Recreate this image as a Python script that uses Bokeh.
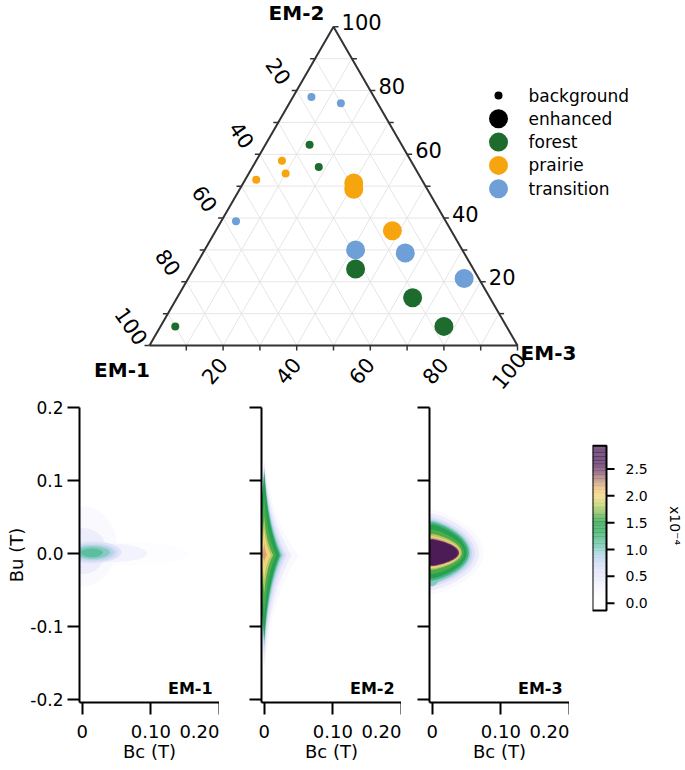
import numpy as np
from bokeh.plotting import figure
from bokeh.models import Range1d, FixedTicker, ColumnDataSource, Label, PrintfTickFormatter
from bokeh.layouts import column, row
from bokeh.transform import linear_cmap
from bokeh.core.properties import value
from bokeh.embed import file_html
from bokeh.resources import INLINE

FONT = "DejaVu Sans"

# ---------------- ternary data (percent) ----------------
em1 = [17, 10, 25, 26, 35, 36, 45, 57, 90, 19, 20, 16, 29, 16, 4, 32, 21, 17]
em2 = [78, 76, 63, 56, 58, 54, 52, 39, 6, 51, 49, 36, 30, 29, 21, 24, 15, 6]
em3 = [5, 14, 12, 18, 7, 10, 3, 4, 4, 30, 31, 48, 41, 55, 75, 44, 64, 77]
site = ["transition", "transition", "forest", "forest", "prairie", "prairie", "prairie",
        "transition", "forest", "prairie", "prairie", "prairie", "transition", "transition",
        "transition", "forest", "forest", "forest"]
sample = ["background"] * 9 + ["enhanced"] * 9

legend_labels = ["background", "enhanced", "forest", "prairie", "transition"]
site_types = ["forest", "prairie", "transition"]
site_colors = ["#1d6c2d", "#f6a50e", "#6e9fd6"]
tern_labels = [20, 40, 60, 80, 100]
tern_steps = [10, 20, 30, 40, 50, 60, 70, 80, 90, 100]

# ---------------- FORC-like density contour levels (x1e-4) ----------------
# level value, Bc centre, Bc half-extent, Bu of widest point, Bu top, Bu bottom
em1_level = [0.15, 0.2, 0.3, 0.4, 0.55, 0.7, 0.85, 1.0, 1.1]
em1_bc = [0.07, 0.0, 0.035, 0.0, 0.012, 0.014, 0.015, 0.015, 0.014]
em1_bc_ext = [0.085, 0.05, 0.06, 0.035, 0.045, 0.037, 0.031, 0.025, 0.016]
em1_bu_pk = [0.0, 0.01, 0.0, 0.006, 0.002, 0.002, 0.002, 0.002, 0.002]
em1_bu_top = [0.016, 0.065, 0.014, 0.035, 0.017, 0.014, 0.012, 0.01, 0.007]
em1_bu_bot = [-0.016, -0.045, -0.012, -0.028, -0.013, -0.011, -0.009, -0.007, -0.005]

em2_level = [0.2, 0.4, 0.6, 0.8, 1.0, 1.2, 1.4, 1.6, 1.8, 2.0, 2.2]
em2_bc = [0.0] * 11
em2_bc_ext = [0.05, 0.04, 0.033, 0.029, 0.026, 0.024, 0.022, 0.017, 0.013, 0.01, 0.004]
em2_bu_pk = [-0.002] * 11
em2_bu_top = [0.13, 0.125, 0.12, 0.118, 0.115, 0.112, 0.11, 0.08, 0.05, 0.034, 0.016]
em2_bu_bot = [-0.16, -0.15, -0.14, -0.13, -0.125, -0.12, -0.115, -0.085, -0.055, -0.036, -0.012]

em3_level = [0.2, 0.4, 0.6, 0.8, 1.0, 1.0, 1.2, 1.4, 1.6, 1.8, 2.0, 2.2, 2.5, 2.8]
em3_bc = [0.0] * 14
em3_bc_ext = [0.075, 0.068, 0.062, 0.058, 0.012, 0.055, 0.053, 0.05, 0.046, 0.043, 0.041, 0.04, 0.039, 0.037]
em3_bu_pk = [0.0, 0.0, 0.0, 0.0, -0.03, 0.001, 0.001, 0.001, 0.001, 0.001, 0.001, 0.001, 0.001, 0.001]
em3_bu_top = [0.06, 0.055, 0.05, 0.047, -0.018, 0.045, 0.043, 0.04, 0.033, 0.027, 0.024, 0.022, 0.02, 0.019]
em3_bu_bot = [-0.056, -0.05, -0.045, -0.042, -0.045, -0.04, -0.037, -0.034, -0.028, -0.022, -0.02, -0.018, -0.017, -0.016]

bu_ticks = [-0.2, -0.1, 0.0, 0.1, 0.2]
bc_ticks = [0.0, 0.1, 0.2]
bc_tick_labels = ["0", "0.10", "0.20"]
cb_ticks = [0.0, 0.5, 1.0, 1.5, 2.0, 2.5]
cb_tick_labels = ["0.0", "0.5", "1.0", "1.5", "2.0", "2.5"]
CB_LOW, CB_HIGH = -0.136, 2.934

# ---------------- colour map ----------------
stops = [(-0.14, "#ffffff"), (0.1, "#ffffff"), (0.35, "#f0f0fc"), (0.6, "#dde0f7"),
         (0.8, "#bfd6ef"), (0.95, "#98cfd2"), (1.1, "#5cbf9f"), (1.3, "#2fa95e"),
         (1.5, "#1f9a45"), (1.7, "#7fbb50"), (1.85, "#c8cf68"), (2.0, "#f2d47c"),
         (2.15, "#e6b877"), (2.3, "#b08070"), (2.45, "#7a4a6a"), (2.6, "#4f1f58"),
         (2.96, "#4a1a55")]


def _rgb(h):
    return [int(h[i:i + 2], 16) for i in (1, 3, 5)]


def build_palette(n=256):
    sv = np.array([s[0] for s in stops])
    sc = np.array([_rgb(s[1]) for s in stops], dtype=float)
    out = []
    for v in np.linspace(CB_LOW, CB_HIGH, n):
        c = [np.interp(v, sv, sc[:, k]) for k in range(3)]
        out.append("#%02x%02x%02x" % tuple(int(round(x)) for x in c))
    return out


PALETTE = build_palette()

# ---------------- ternary figure ----------------
S = 3.68             # px per percent
BLX, BLY = 149, 345  # page position of the EM-1 corner
TW, TH = 685, 395
X0 = -BLX / S
Y1 = BLY / S
R3 = np.sqrt(3) / 2


def tern_xy(a, b, c):
    a, b, c = np.asarray(a, float), np.asarray(b, float), np.asarray(c, float)
    tot = a + b + c
    return 100 * (c + b / 2) / tot, 100 * b * R3 / tot


def page_xy(x, y):
    return (np.asarray(x, float) - BLX) / S, (BLY - np.asarray(y, float)) / S


pt = figure(width=TW, height=TH, x_range=Range1d(X0, X0 + TW / S), y_range=Range1d(Y1 - TH / S, Y1),
            x_axis_type=None, y_axis_type=None, toolbar_location=None, output_backend="svg",
            min_border=0, outline_line_color=None)

grid_v = np.array(tern_steps[:-1], float)
gx0, gy0, gx1, gy1 = [], [], [], []
for v in grid_v:
    for (q0, q1) in [((100 - v, v, 0), (0, v, 100 - v)),
                     ((100 - v, 0, v), (0, 100 - v, v)),
                     ((v, 0, 100 - v), (v, 100 - v, 0))]:
        x0, y0 = tern_xy(*q0)
        x1, y1 = tern_xy(*q1)
        gx0.append(float(x0)); gy0.append(float(y0)); gx1.append(float(x1)); gy1.append(float(y1))
pt.segment(gx0, gy0, gx1, gy1, line_color="#e6e6e6", line_width=1)

vx, vy = tern_xy([100, 0, 0, 100], [0, 100, 0, 0], [0, 0, 100, 0])
pt.line(vx, vy, line_color="#333333", line_width=2)

# ticks
TL = 5 / S
st = np.array(tern_steps, float)
bx, by = tern_xy(100 - st, 0 * st, st)
pt.segment(bx, by, bx, by - TL, line_color="#333333", line_width=1.5)
rx, ry = tern_xy(0 * st, st, 100 - st)
pt.segment(rx, ry, rx + TL, ry, line_color="#333333", line_width=1.5)
lx, ly = tern_xy(st, 100 - st, 0 * st)
pt.segment(lx, ly, lx - TL, ly, line_color="#333333", line_width=1.5)

tl = np.array(tern_labels, float)
tl_txt = [str(v) for v in tern_labels]
bx, by = tern_xy(100 - tl, 0 * tl, tl)
pt.text(bx - 2.4, by - 6.8, text=tl_txt, angle=np.deg2rad(50), text_align="center",
        text_baseline="middle", text_font=value(FONT), text_font_size="21px", text_color="black")
rx, ry = tern_xy(0 * tl, tl, 100 - tl)
pt.text(rx + 2.2, ry + 1.2, text=tl_txt, text_align="left", text_baseline="middle",
        text_font=value(FONT), text_font_size="21px", text_color="black")
lx, ly = tern_xy(tl, 100 - tl, 0 * tl)
pt.text(lx - 4.9, ly + 5.3, text=tl_txt, angle=np.deg2rad(-55), text_align="center",
        text_baseline="middle", text_font=value(FONT), text_font_size="21px", text_color="black")

# axis titles
tx, ty = page_xy([296, 121.5, 548], [12, 369, 352.5])
pt.text(tx, ty, text=["EM-2", "EM-1", "EM-3"], text_align="center", text_baseline="middle",
        text_font=value(FONT), text_font_size="20px", text_font_style="bold", text_color="black")

# data points
px, py = tern_xy(em1, em2, em3)
cmap = dict(zip(site_types, site_colors))
sizes = {"background": 8, "enhanced": 19}
src = ColumnDataSource(dict(x=px, y=py, color=[cmap[s] for s in site],
                            size=[sizes[s] for s in sample]))
pt.scatter("x", "y", size="size", fill_color="color", line_color=None, source=src)

# legend (manual)
LX, LY0 = page_xy(498, 95)
LTX, _ = page_xy(528, 95)
LDY = -23.3 / S
leg_y = [float(LY0) + i * LDY for i in range(len(legend_labels))]
leg_col = ["black", "black"] + site_colors
leg_size = [8, 19, 19, 19, 19]
pt.scatter([float(LX)] * 5, leg_y, size=leg_size, fill_color=leg_col, line_color=None)
pt.text([float(LTX)] * 5, leg_y, text=legend_labels, text_align="left", text_baseline="middle",
        text_font=value(FONT), text_font_size="17px", text_color="black")

# ---------------- FORC panels ----------------
FW, FH = 140, 295
BT, BB = 12, 66
PH = BT + FH + BB
UU = np.linspace(-1, 1, 121)


def profile(kind, a):
    au = np.abs(UU)
    if kind == "cusp":
        return (np.exp(-a * au) - np.exp(-a)) / (1 - np.exp(-a))
    q, pw = a
    return (1 - au ** q) ** pw


def contour_shape(bc, ext, pk, top, bot, kind, a):
    f = profile(kind, a)
    y = np.where(UU >= 0, pk + UU * (top - pk), pk + UU * (pk - bot))
    xs = np.concatenate([bc + ext * f, (bc - ext * f)[::-1]])
    ys = np.concatenate([y, y[::-1]])
    return xs.tolist(), ys.tolist()


def panel(name, lv, bcc, ext, pk, top, bot, kind, a, left, first):
    p = figure(width=left + FW, height=PH, x_range=Range1d(-0.004, 0.2), y_range=Range1d(-0.2037, 0.2),
               min_border_left=left, min_border_right=0, min_border_top=BT, min_border_bottom=BB,
               toolbar_location=None, output_backend="svg", outline_line_color=None)
    p.grid.visible = False
    xs, ys = [], []
    for i in range(len(lv)):
        u, w = contour_shape(bcc[i], ext[i], pk[i], top[i], bot[i], kind, a)
        xs.append(u); ys.append(w)
    src = ColumnDataSource(dict(xs=xs, ys=ys, lv=lv))
    p.patches("xs", "ys", source=src, line_color=None,
              fill_color=linear_cmap("lv", PALETTE, CB_LOW, CB_HIGH))
    for ax in (p.xaxis[0], p.yaxis[0]):
        ax.axis_line_width = 2
        ax.axis_line_color = "black"
        ax.major_tick_line_width = 2
        ax.major_tick_line_color = "black"
        ax.major_tick_out = 12
        ax.major_tick_in = 0
        ax.minor_tick_line_color = None
        ax.major_label_text_font = FONT
        ax.axis_label_text_font = FONT
        ax.axis_label_text_font_style = "normal"
        ax.major_label_text_color = "black"
        ax.axis_label_text_color = "black"
    p.xaxis.ticker = FixedTicker(ticks=bc_ticks)
    p.xaxis.major_label_overrides = dict(zip(bc_ticks, bc_tick_labels))
    p.xaxis.major_label_text_font_size = "18px"
    p.xaxis.major_label_standoff = 10
    p.xaxis.axis_label = "Bc (T)"
    p.xaxis.axis_label_text_font_size = "18px"
    p.xaxis.axis_label_standoff = 0
    p.yaxis.ticker = FixedTicker(ticks=bu_ticks)
    if first:
        p.yaxis.formatter = PrintfTickFormatter(format="%.1f")
        p.yaxis.major_label_text_font_size = "17px"
        p.yaxis.major_label_standoff = 4
        p.yaxis.axis_label = "Bu (T)"
        p.yaxis.axis_label_text_font_size = "18px"
        p.yaxis.axis_label_standoff = 0
    else:
        p.yaxis.major_label_overrides = {t: "" for t in bu_ticks}
        p.yaxis.major_label_standoff = 0
    p.add_layout(Label(x=0.19, y=-0.197, text=name, text_align="right", text_baseline="bottom",
                       text_font=FONT, text_font_size="16px", text_font_style="bold",
                       text_color="black"))
    return p


p1 = panel("EM-1", em1_level, em1_bc, em1_bc_ext, em1_bu_pk, em1_bu_top, em1_bu_bot,
           "round", (2.0, 0.5), 79, True)
p2 = panel("EM-2", em2_level, em2_bc, em2_bc_ext, em2_bu_pk, em2_bu_top, em2_bu_bot,
           "cusp", 1.9, 42, False)
p3 = panel("EM-3", em3_level, em3_bc, em3_bc_ext, em3_bu_pk, em3_bu_top, em3_bu_bot,
           "round", (2.0, 0.8), 28, False)

# ---------------- colour bar (drawn in its own frame) ----------------
CBL = 23
CBW = TW - (79 + FW) - (42 + FW) - (28 + FW) - CBL   # frame width in px
BARPX = 14.0                                          # bar width in px
CBS = 53.7                                            # px per colour unit
ZERO_Y = 602.7 - (TH + BT)                            # px from frame top to value 0
cb_top = ZERO_Y / CBS
cb_bot = cb_top - FH / CBS
cb = figure(width=CBL + CBW, height=PH, x_range=Range1d(0, CBW / BARPX), y_range=Range1d(cb_bot, cb_top),
            min_border_left=CBL, min_border_right=0, min_border_top=BT, min_border_bottom=BB,
            x_axis_type=None, y_axis_type=None, toolbar_location=None, output_backend="svg",
            outline_line_color=None)
cb.grid.visible = False
cv = np.arange(CB_LOW, CB_HIGH, 0.01)
cb.quad(left=0, right=1, bottom=cv, top=np.minimum(cv + 0.0105, CB_HIGH), line_color=None,
        fill_color=linear_cmap("bottom", PALETTE, CB_LOW, CB_HIGH))
cb.quad(left=[0], right=[1], bottom=[CB_LOW], top=[CB_HIGH], fill_color=None,
        line_color="black", line_width=2)
cb.segment(x0=[1] * len(cb_ticks), y0=cb_ticks, x1=[1 + 8 / BARPX] * len(cb_ticks), y1=cb_ticks,
           line_color="black", line_width=2)
cb.text(x=[1 + 19 / BARPX] * len(cb_ticks), y=cb_ticks, text=cb_tick_labels, text_align="left",
        text_baseline="middle", text_font=value(FONT), text_font_size="14px", text_color="black")
cb.text(x=[(674 - 592) / BARPX], y=[(602.7 - 525) / CBS], text=["x10\u207b\u2074"], angle=-np.pi / 2,
        text_align="center", text_baseline="middle", text_font=value(FONT), text_font_size="14px",
        text_color="black")

layout = column(pt, row(p1, p2, p3, cb))
open("out.html", "w").write(file_html(layout, INLINE))
